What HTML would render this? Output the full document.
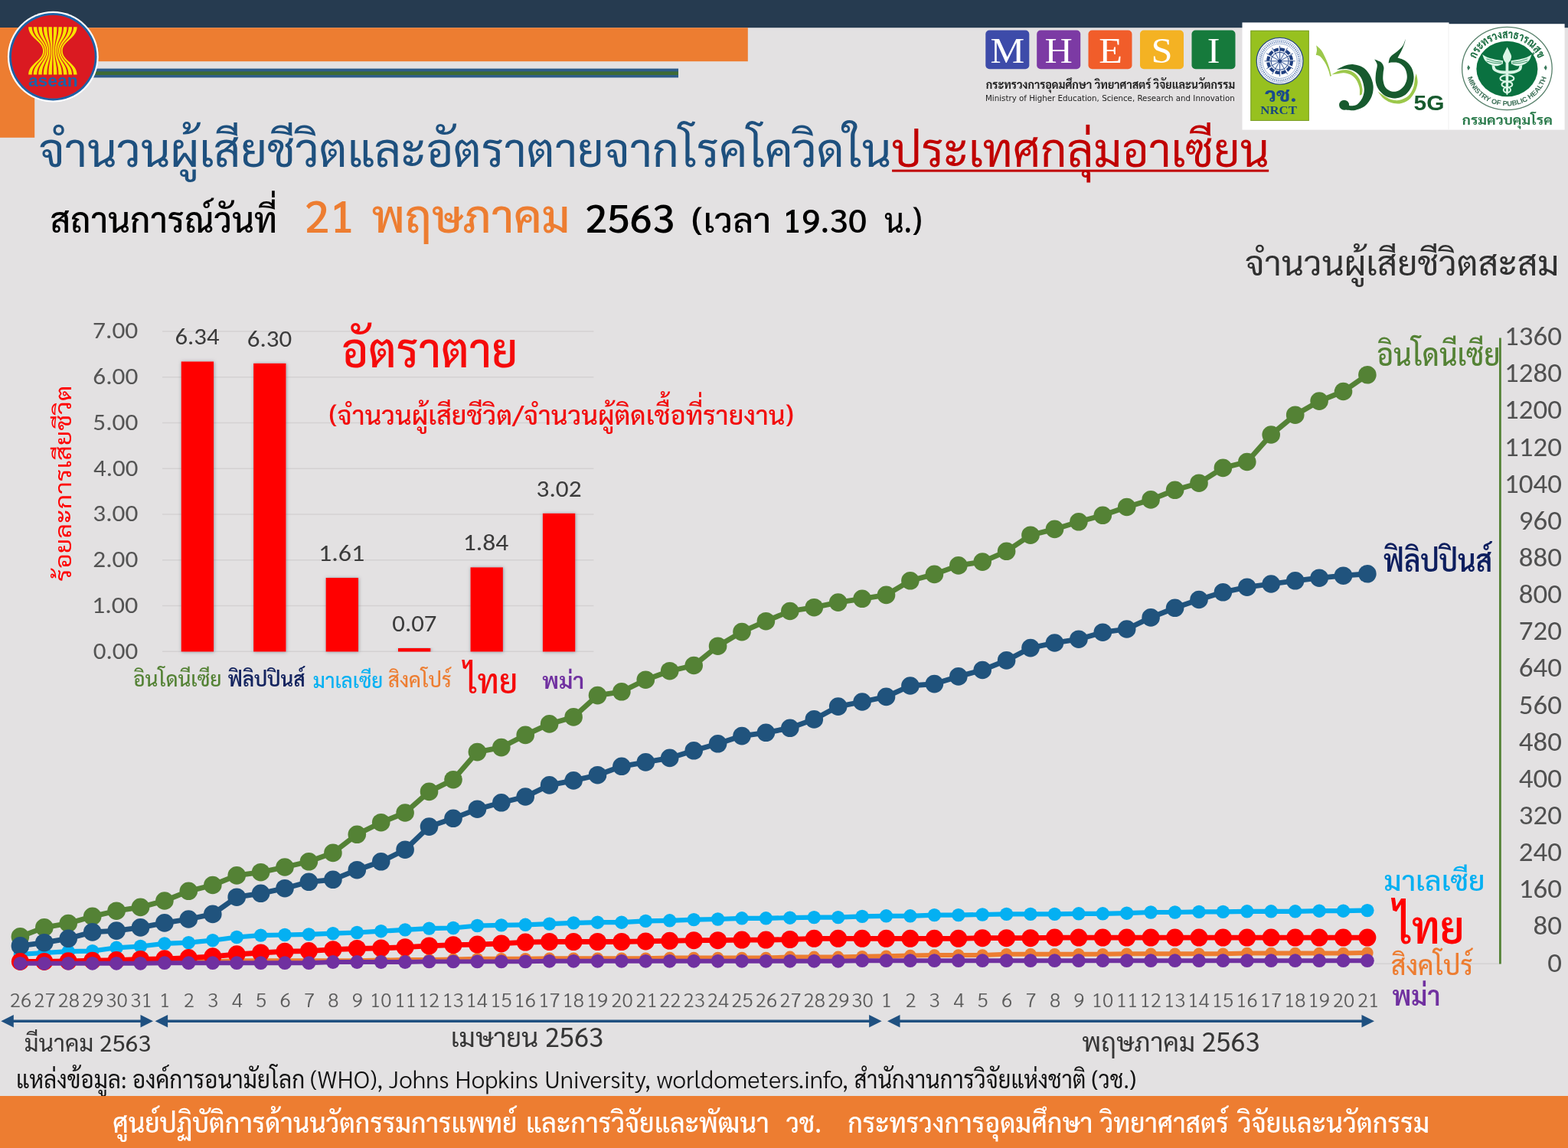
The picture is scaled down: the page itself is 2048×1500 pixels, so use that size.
<!DOCTYPE html>
<html lang="th">
<head>
<meta charset="utf-8">
<title>จำนวนผู้เสียชีวิตและอัตราตายจากโรคโควิดในประเทศกลุ่มอาเซียน</title>
<style>
html, body { margin: 0; padding: 0; background: #E3E1E2; }
body { width: 2048px; height: 1500px; overflow: hidden; font-family: Sarabun, 'TH Sarabun New', 'Noto Sans Thai', 'Liberation Sans', sans-serif; }
#page { position: absolute; left: 0; top: 0; width: 2048px; height: 1500px; background: #E3E1E2; overflow: hidden; }
svg { display: block; }
text { white-space: pre; }
</style>
</head>
<body>
<div id="page">
<svg width="2048" height="1500" viewBox="0 0 2048 1500">
<defs>
<filter id="sh" x="-30%" y="-5%" width="170%" height="112%">
<feDropShadow dx="0.6" dy="0.4" stdDeviation="2.2" flood-color="#4d6473" flood-opacity="0.6"/>
</filter>
</defs>
<g id="header">
<rect x="0" y="0" width="2048" height="36.2" fill="#263B50"/>
<rect x="0" y="36.2" width="976.8" height="44" fill="#ED7D31"/>
<rect x="0" y="36.2" width="45.2" height="143.6" fill="#ED7D31"/>
<rect x="120" y="89.6" width="766" height="11.8" fill="#2E5C8A"/>
<rect x="120" y="93.4" width="766" height="4.6" fill="#3E6B35"/>
</g>
<g id="asean-logo">
<circle cx="69.3" cy="74.2" r="59.4" fill="#fff"/>
<circle cx="69.3" cy="74.2" r="57.2" fill="#1E62A6"/>
<circle cx="69.3" cy="74.2" r="54.4" fill="#DA1A21"/>
<path d="M37.18 35.2 C37.18 50.2 56.16 53.4 56.16 66.4 C56.16 79.4 37.18 82.6 37.18 97.6 L41.68 97.6 C41.68 82.6 58.06 79.4 58.06 66.4 C58.06 53.4 41.68 50.2 41.68 35.2 Z M43.73 35.2 C43.73 50.2 58.78 53.4 58.78 66.4 C58.78 79.4 43.73 82.6 43.73 97.6 L48.23 97.6 C48.23 82.6 60.68 79.4 60.68 66.4 C60.68 53.4 48.23 50.2 48.23 35.2 Z M50.28 35.2 C50.28 50.2 61.40 53.4 61.40 66.4 C61.40 79.4 50.28 82.6 50.28 97.6 L54.78 97.6 C54.78 82.6 63.30 79.4 63.30 66.4 C63.30 53.4 54.78 50.2 54.78 35.2 Z M56.83 35.2 C56.83 50.2 64.02 53.4 64.02 66.4 C64.02 79.4 56.83 82.6 56.83 97.6 L61.33 97.6 C61.33 82.6 65.92 79.4 65.92 66.4 C65.92 53.4 61.33 50.2 61.33 35.2 Z M63.38 35.2 C63.38 50.2 66.64 53.4 66.64 66.4 C66.64 79.4 63.38 82.6 63.38 97.6 L67.88 97.6 C67.88 82.6 68.54 79.4 68.54 66.4 C68.54 53.4 67.88 50.2 67.88 35.2 Z M69.93 35.2 C69.93 50.2 69.26 53.4 69.26 66.4 C69.26 79.4 69.93 82.6 69.93 97.6 L74.43 97.6 C74.43 82.6 71.16 79.4 71.16 66.4 C71.16 53.4 74.43 50.2 74.43 35.2 Z M76.48 35.2 C76.48 50.2 71.88 53.4 71.88 66.4 C71.88 79.4 76.48 82.6 76.48 97.6 L80.98 97.6 C80.98 82.6 73.78 79.4 73.78 66.4 C73.78 53.4 80.98 50.2 80.98 35.2 Z M83.03 35.2 C83.03 50.2 74.50 53.4 74.50 66.4 C74.50 79.4 83.03 82.6 83.03 97.6 L87.53 97.6 C87.53 82.6 76.40 79.4 76.40 66.4 C76.40 53.4 87.53 50.2 87.53 35.2 Z M89.58 35.2 C89.58 50.2 77.12 53.4 77.12 66.4 C77.12 79.4 89.58 82.6 89.58 97.6 L94.08 97.6 C94.08 82.6 79.02 79.4 79.02 66.4 C79.02 53.4 94.08 50.2 94.08 35.2 Z M96.12 35.2 C96.12 50.2 79.74 53.4 79.74 66.4 C79.74 79.4 96.12 82.6 96.12 97.6 L100.62 97.6 C100.62 82.6 81.64 79.4 81.64 66.4 C81.64 53.4 100.62 50.2 100.62 35.2 Z" fill="#F9E300"/>
<text x="36.9" y="113.3" font-family="'Liberation Sans', 'DejaVu Sans', sans-serif" font-size="22.5" font-weight="700" fill="#1E62A6" textLength="64.8" lengthAdjust="spacingAndGlyphs">asean</text>
</g>
<g id="mhesi-logo">
<rect x="1287.3" y="39.5" width="57" height="50.8" rx="5" fill="#3D4BA9"/>
<text x="1293.5" y="82.4" font-family="'Liberation Serif', 'DejaVu Serif', serif" font-size="47" fill="#fff" textLength="44.7" lengthAdjust="spacingAndGlyphs">M</text>
<rect x="1354.2" y="39.5" width="57" height="50.8" rx="5" fill="#7C3AA4"/>
<text x="1364.5" y="82.4" font-family="'Liberation Serif', 'DejaVu Serif', serif" font-size="47" fill="#fff" textLength="36.3" lengthAdjust="spacingAndGlyphs">H</text>
<rect x="1421.5" y="39.5" width="57" height="50.8" rx="5" fill="#F15D2A"/>
<text x="1435.2" y="82.4" font-family="'Liberation Serif', 'DejaVu Serif', serif" font-size="47" fill="#fff" textLength="30.7" lengthAdjust="spacingAndGlyphs">E</text>
<rect x="1489.0" y="39.5" width="57" height="50.8" rx="5" fill="#F4B223"/>
<text x="1503.5" y="82.4" font-family="'Liberation Serif', 'DejaVu Serif', serif" font-size="47" fill="#fff" textLength="28.0" lengthAdjust="spacingAndGlyphs">S</text>
<rect x="1556.5" y="39.5" width="57" height="50.8" rx="5" fill="#167A3C"/>
<text x="1576.7" y="82.4" font-family="'Liberation Serif', 'DejaVu Serif', serif" font-size="47" fill="#fff" textLength="16.7" lengthAdjust="spacingAndGlyphs">I</text>
<text x="1287.8" y="115.8" font-family="Sarabun, 'TH Sarabun New', 'Noto Sans Thai', 'Liberation Sans', sans-serif" font-size="14.8" font-weight="700" fill="#1d1d1d" textLength="325.4" lengthAdjust="spacingAndGlyphs">กระทรวงการอุดมศึกษา วิทยาศาสตร์ วิจัยและนวัตกรรม</text>
<text x="1287.0" y="131.5" font-family="'DejaVu Sans', 'Liberation Sans', sans-serif" font-size="10.2" fill="#222" textLength="325.7" lengthAdjust="spacingAndGlyphs">Ministry of Higher Education, Science, Research and Innovation</text>
</g>
<g id="nrct-logos">
<rect x="1622.5" y="29.4" width="270" height="140.2" fill="#fff"/>
<rect x="1892" y="31.2" width="151.6" height="138.4" fill="#fff"/>
<rect x="1891.6" y="31.2" width="0.8" height="138.4" fill="#ECECEC"/>
<rect x="1633.4" y="39.8" width="76.4" height="118.2" fill="#97C11F"/>
<rect x="1633.9" y="40.3" width="75.4" height="117.2" fill="none" stroke="#7d9f2a" stroke-width="1"/>
<circle cx="1671.6" cy="79.8" r="30.4" fill="#fff" stroke="#2f4f86" stroke-width="1.3"/>
<circle cx="1671.6" cy="79.8" r="27.9" fill="none" stroke="#6f8dbd" stroke-width="0.7"/>
<circle cx="1671.6" cy="79.8" r="22.6" fill="none" stroke="#6f8dbd" stroke-width="0.7"/>
<circle cx="1671.6" cy="79.8" r="25.3" fill="none" stroke="#5d7db4" stroke-width="2.6" stroke-dasharray="1.1 1.3"/>
<circle cx="1671.6" cy="79.8" r="15.4" fill="none" stroke="#1F3F80" stroke-width="4.2" stroke-dasharray="5.9 2.164"/>
<circle cx="1671.6" cy="79.8" r="11.6" fill="#EEF3FB" stroke="#1F3F80" stroke-width="1"/>
<line x1="1674.1" y1="79.8" x2="1691.6" y2="79.8" stroke="#2b4c8c" stroke-width="0.9"/>
<line x1="1673.8" y1="81.0" x2="1688.9" y2="89.8" stroke="#2b4c8c" stroke-width="0.9"/>
<line x1="1672.8" y1="82.0" x2="1681.6" y2="97.1" stroke="#2b4c8c" stroke-width="0.9"/>
<line x1="1671.6" y1="82.3" x2="1671.6" y2="99.8" stroke="#2b4c8c" stroke-width="0.9"/>
<line x1="1670.3" y1="82.0" x2="1661.6" y2="97.1" stroke="#2b4c8c" stroke-width="0.9"/>
<line x1="1669.4" y1="81.0" x2="1654.3" y2="89.8" stroke="#2b4c8c" stroke-width="0.9"/>
<line x1="1669.1" y1="79.8" x2="1651.6" y2="79.8" stroke="#2b4c8c" stroke-width="0.9"/>
<line x1="1669.4" y1="78.5" x2="1654.3" y2="69.8" stroke="#2b4c8c" stroke-width="0.9"/>
<line x1="1670.3" y1="77.6" x2="1661.6" y2="62.5" stroke="#2b4c8c" stroke-width="0.9"/>
<line x1="1671.6" y1="77.3" x2="1671.6" y2="59.8" stroke="#2b4c8c" stroke-width="0.9"/>
<line x1="1672.8" y1="77.6" x2="1681.6" y2="62.5" stroke="#2b4c8c" stroke-width="0.9"/>
<line x1="1673.8" y1="78.5" x2="1688.9" y2="69.8" stroke="#2b4c8c" stroke-width="0.9"/>
<circle cx="1671.6" cy="79.8" r="2.6" fill="#1F3F80"/>
<text x="1652.1" y="133.0" font-family="Sarabun, 'TH Sarabun New', 'Noto Sans Thai', 'Liberation Sans', sans-serif" font-size="26.2" font-weight="800" fill="#1A4A8C" textLength="41.4" lengthAdjust="spacingAndGlyphs">วช.</text>
<text x="1646.3" y="149.4" font-family="'Liberation Serif', 'DejaVu Serif', serif" font-size="15.6" font-weight="700" fill="#17477F" textLength="47.6" lengthAdjust="spacingAndGlyphs">NRCT</text>
<path d="M1719.2 59.2 C1720.4 60.4 1724.3 63.3 1726.4 66.4 C1728.5 69.5 1730.4 74.0 1732.0 77.6 C1733.6 81.2 1734.9 84.5 1736.0 88.0 C1737.1 91.5 1738.3 97.0 1738.8 98.8 L1740.8 97.0 L1738.4 99.6 L1737.3 99.8 C1736.9 98.5 1736.3 95.0 1735.2 92.0 C1734.1 89.0 1732.3 84.7 1730.4 81.6 C1728.5 78.5 1725.9 75.2 1724.0 73.6 C1722.1 72.0 1719.7 72.3 1718.8 72.0 C1719.0 70.9 1719.9 67.7 1720.0 65.6 C1720.1 63.5 1719.3 60.3 1719.2 59.2 Z" fill="#9CC84B"/>
<path d="M1739.6 97.2 C1741.3 96.4 1746.2 93.1 1749.6 92.2 C1753.0 91.2 1756.8 90.9 1760.0 91.4 C1763.2 91.9 1766.1 93.1 1768.8 95.2 C1771.5 97.3 1774.2 100.5 1776.0 104.0 C1777.8 107.5 1778.9 112.8 1779.4 116.0 C1779.8 119.2 1778.9 122.0 1778.8 123.2 L1776.0 124.8 C1775.9 123.1 1776.4 117.9 1775.6 114.4 C1774.8 110.9 1773.1 106.8 1771.2 104.0 C1769.3 101.2 1766.7 99.1 1764.0 97.6 C1761.3 96.1 1758.1 95.4 1755.2 95.2 C1752.3 95.0 1749.0 96.1 1746.4 96.4 C1743.8 96.7 1740.7 97.1 1739.6 97.2 Z" fill="#9CC84B"/>
<path d="M1849.8 96.0 C1850.1 98.0 1851.9 104.0 1851.6 108.0 C1851.3 112.0 1849.9 116.3 1848.0 120.0 C1846.1 123.7 1843.3 127.8 1840.0 130.4 C1836.7 133.0 1832.0 134.8 1828.0 135.4 C1824.0 135.9 1819.6 135.0 1816.0 133.8 C1812.4 132.5 1809.1 130.4 1806.4 128.0 C1803.7 125.6 1800.7 121.0 1799.6 119.6 C1800.9 120.5 1804.3 123.1 1807.2 124.8 C1810.1 126.5 1813.3 129.0 1816.8 130.0 C1820.3 131.0 1824.3 131.5 1828.0 130.8 C1831.7 130.1 1836.2 128.3 1839.2 125.6 C1842.2 122.9 1844.5 118.3 1846.0 114.4 C1847.5 110.5 1847.4 105.5 1848.0 102.4 C1848.6 99.3 1849.5 97.1 1849.8 96.0 Z" fill="#9CC84B"/>
<path d="M1745.6 91.2 C1747.5 90.3 1753.1 86.9 1756.8 85.8 C1760.5 84.6 1764.1 83.8 1768.0 84.2 C1771.9 84.5 1776.5 85.8 1780.0 88.0 C1783.5 90.2 1786.5 93.6 1788.8 97.6 C1791.1 101.6 1793.2 107.2 1793.6 112.0 C1794.0 116.8 1793.2 122.0 1791.4 126.4 C1789.6 130.8 1786.4 135.5 1782.8 138.4 C1779.2 141.3 1773.8 143.1 1770.0 144.0 C1766.2 144.9 1762.5 143.8 1760.0 143.7 C1757.5 143.5 1756.0 143.3 1755.2 143.2 L1760.0 138.0 C1761.3 138.0 1765.7 138.5 1768.0 138.0 C1770.3 137.5 1772.0 137.1 1774.0 135.2 C1776.0 133.3 1778.7 129.6 1780.0 126.4 C1781.3 123.2 1782.0 119.9 1781.8 116.0 C1781.5 112.1 1780.3 106.8 1778.6 103.2 C1776.8 99.6 1774.3 96.7 1771.2 94.6 C1768.1 92.4 1764.3 90.8 1760.0 90.2 C1755.7 89.7 1748.0 91.0 1745.6 91.2 Z" fill="#175A2E"/>
<circle cx="1755.6" cy="137.2" r="6.5" fill="#175A2E"/>
<path d="M1795.2 77.6 C1795.8 78.8 1798.5 81.7 1798.8 84.8 C1799.1 87.9 1797.3 92.1 1797.0 96.0 C1796.7 99.9 1796.2 104.3 1797.0 108.0 C1797.8 111.7 1799.3 115.3 1801.8 118.4 C1804.3 121.5 1808.3 124.9 1812.0 126.6 C1815.7 128.2 1820.0 128.7 1824.0 128.2 C1828.0 127.6 1832.6 126.1 1836.0 123.4 C1839.4 120.7 1842.4 115.9 1844.2 112.0 C1845.9 108.1 1846.7 104.0 1846.6 100.0 C1846.4 96.0 1845.3 91.5 1843.4 88.0 C1841.5 84.5 1838.2 81.3 1835.2 79.2 C1832.2 77.1 1827.2 76.0 1825.6 75.4 C1826.4 73.9 1828.9 69.5 1830.4 66.4 C1831.9 63.3 1833.5 59.5 1834.4 56.8 C1835.3 54.1 1835.7 51.5 1836.0 50.4 C1835.3 52.0 1833.9 57.2 1832.0 60.0 C1830.1 62.8 1827.5 64.8 1824.8 67.2 C1822.1 69.6 1817.9 71.9 1816.0 74.4 C1814.1 76.9 1814.0 81.1 1813.6 82.4 C1814.5 82.3 1816.8 81.5 1819.2 81.6 C1821.6 81.7 1825.3 81.4 1828.0 82.8 C1830.7 84.2 1833.6 86.8 1835.2 89.8 C1836.8 92.8 1837.9 97.2 1837.8 100.8 C1837.7 104.4 1836.4 108.3 1834.6 111.2 C1832.7 114.1 1829.4 117.0 1826.6 118.4 C1823.7 119.8 1820.4 120.0 1817.6 119.4 C1814.8 118.7 1811.6 116.7 1809.8 114.4 C1807.9 112.1 1807.1 108.7 1806.6 105.6 C1806.0 102.5 1806.4 98.9 1806.6 96.0 C1806.7 93.1 1807.8 90.4 1807.4 88.0 C1806.9 85.6 1806.0 83.3 1804.0 81.6 C1802.0 79.9 1796.7 78.3 1795.2 77.6 Z" fill="#175A2E"/>
<text x="1846.5" y="144.1" font-family="'Liberation Sans', 'DejaVu Sans', sans-serif" font-size="27.6" font-weight="700" fill="#175A2E" textLength="39.9" lengthAdjust="spacingAndGlyphs">5G</text>
</g>
<g id="moph-logo">
<ellipse cx="1968.4" cy="89.5" rx="58.8" ry="54.2" fill="#fff" stroke="#56806A" stroke-width="1.3"/>
<ellipse cx="1968.4" cy="90.0" rx="40" ry="36.2" fill="#0A7140"/>
<path d="M1968.6 61.6 C1968.1 62.6 1966.5 65.6 1965.6 67.6 C1964.7 69.6 1963.3 71.8 1963.0 73.6 C1962.8 75.4 1963.6 77.0 1964.2 78.4 C1964.7 79.8 1966.2 81.4 1966.6 82.0 C1966.6 88.0 1966.6 110.9 1966.9 118.0 C1967.2 125.1 1968.1 123.3 1968.4 124.4 C1968.7 123.3 1969.7 125.1 1970.1 118.0 C1970.4 110.9 1970.3 88.0 1970.4 82.0 C1970.8 81.4 1972.3 79.8 1973.0 78.4 C1973.6 77.0 1974.3 75.4 1974.1 73.6 C1973.9 71.8 1972.6 69.6 1971.7 67.6 C1970.8 65.6 1969.1 62.6 1968.6 61.6 Z" fill="#DAF6E6"/>
<path d="M1963.2 79.2 C1961.3 78.9 1955.5 78.1 1952.0 77.4 C1948.5 76.6 1945.0 75.9 1942.4 74.8 C1939.8 73.7 1937.2 71.6 1936.2 71.0 C1936.7 72.2 1937.5 76.2 1939.2 78.4 C1940.9 80.6 1943.7 82.9 1946.4 84.2 C1949.1 85.5 1952.5 86.3 1955.2 86.2 C1957.9 86.0 1961.5 83.9 1962.8 83.4 L1963.2 79.2 Z" fill="#DAF6E6"/>
<path d="M1973.6 79.2 C1975.5 78.9 1981.3 78.1 1984.8 77.4 C1988.3 76.6 1991.8 75.9 1994.4 74.8 C1997.0 73.7 1999.6 71.6 2000.6 71.0 C2000.1 72.2 1999.3 76.2 1997.6 78.4 C1995.9 80.6 1993.1 82.9 1990.4 84.2 C1987.7 85.5 1984.3 86.3 1981.6 86.2 C1978.9 86.0 1975.3 83.9 1974.0 83.4 L1973.6 79.2 Z" fill="#DAF6E6"/>
<path d="M1941.6 76.8 Q1952.0 81.2 1961.6 81.2" fill="none" stroke="#0A7140" stroke-width="0.7"/>
<path d="M1995.2 76.8 Q1984.8 81.2 1975.2 81.2" fill="none" stroke="#0A7140" stroke-width="0.7"/>
<path d="M1941.6 80.0 Q1952.0 83.6 1961.6 82.8" fill="none" stroke="#0A7140" stroke-width="0.7"/>
<path d="M1995.2 80.0 Q1984.8 83.6 1975.2 82.8" fill="none" stroke="#0A7140" stroke-width="0.7"/>
<path d="M1948.5 85.0 C1948.8 86.2 1948.7 90.0 1950.4 91.8 C1952.1 93.5 1955.4 95.0 1958.4 95.8 C1961.4 96.6 1965.1 96.6 1968.4 96.6 C1971.7 96.6 1975.4 96.6 1978.4 95.8 C1981.4 95.0 1984.7 93.5 1986.4 91.8 C1988.1 90.0 1988.0 86.2 1988.3 85.0 L1984.5 86.0 C1984.2 86.7 1984.0 89.1 1982.6 90.2 C1981.1 91.2 1978.4 91.8 1976.0 92.2 C1973.6 92.6 1970.9 92.6 1968.4 92.6 C1965.9 92.6 1963.2 92.6 1960.8 92.2 C1958.4 91.8 1955.7 91.2 1954.2 90.2 C1952.8 89.1 1952.6 86.7 1952.3 86.0 L1948.5 85.0 Z" fill="#DAF6E6"/>
<ellipse cx="1968.4" cy="102.4" rx="9.0" ry="4.2" fill="none" stroke="#DAF6E6" stroke-width="2.1"/>
<ellipse cx="1968.4" cy="110.4" rx="6.9" ry="3.8" fill="none" stroke="#DAF6E6" stroke-width="2.1"/>
<ellipse cx="1968.4" cy="117.4" rx="4.6" ry="3.4" fill="none" stroke="#DAF6E6" stroke-width="2.1"/>
<path id="mophTop" d="M1925.5 89.5 A42.9 39.6 0 0 1 2011.3000000000002 89.5" fill="none"/>
<path id="mophBot" d="M1915.5 89.5 A52.9 48.8 0 0 0 2021.3000000000002 89.5" fill="none"/>
<text font-family="Sarabun, 'TH Sarabun New', 'Noto Sans Thai', 'Liberation Sans', sans-serif" font-size="15" font-weight="800" fill="#1B6E42" text-anchor="middle" textLength="104" lengthAdjust="spacingAndGlyphs"><textPath href="#mophTop" startOffset="50%">กระทรวงสาธารณสุข</textPath></text>
<text font-family="'Liberation Sans', 'DejaVu Sans', sans-serif" font-size="9" font-weight="700" fill="#3A6E55" text-anchor="middle" textLength="136" lengthAdjust="spacingAndGlyphs"><textPath href="#mophBot" startOffset="50%">MINISTRY OF PUBLIC HEALTH</textPath></text>
<path d="M1917.8000000000002 84.9 l2.4 3.6 l-2.4 3.6 l-1.6 -3.6 Z" fill="#3A7A5A"/>
<path d="M2019.0 84.9 l-2.4 3.6 l2.4 3.6 l1.6 -3.6 Z" fill="#3A7A5A"/>
<text x="1909.8" y="163.0" font-family="Sarabun, 'TH Sarabun New', 'Noto Sans Thai', 'Liberation Sans', sans-serif" font-size="16.8" font-weight="700" fill="#2A7A4B" textLength="118.0" lengthAdjust="spacingAndGlyphs">กรมควบคุมโรค</text>
</g>
<g id="titles">
<text x="50.8" y="218.0" font-family="Sarabun, 'TH Sarabun New', 'Noto Sans Thai', 'Liberation Sans', sans-serif" font-size="60.4" fill="#1E507E" textLength="1113.5" lengthAdjust="spacingAndGlyphs">จำนวนผู้เสียชีวิตและอัตราตายจากโรคโควิดใน</text>
<text x="1164.5" y="218.0" font-family="Sarabun, 'TH Sarabun New', 'Noto Sans Thai', 'Liberation Sans', sans-serif" font-size="60.4" fill="#C00000" textLength="493.2" lengthAdjust="spacingAndGlyphs">ประเทศกลุ่มอาเซียน</text>
<rect x="1165.1" y="221.6" width="492.1" height="3.0" fill="#C00000"/>
<text x="65.5" y="303.5" font-family="Sarabun, 'TH Sarabun New', 'Noto Sans Thai', 'Liberation Sans', sans-serif" font-size="45.2" font-weight="500" fill="#000" textLength="296.7" lengthAdjust="spacingAndGlyphs">สถานการณ์วันที่</text>
<text x="397.5" y="303.5" font-family="Sarabun, 'TH Sarabun New', 'Noto Sans Thai', 'Liberation Sans', sans-serif" font-size="57.7" font-weight="500" fill="#ED7D31" textLength="65.8" lengthAdjust="spacingAndGlyphs">21</text>
<text x="485.4" y="303.5" font-family="Sarabun, 'TH Sarabun New', 'Noto Sans Thai', 'Liberation Sans', sans-serif" font-size="59.1" font-weight="500" fill="#ED7D31" textLength="259.1" lengthAdjust="spacingAndGlyphs">พฤษภาคม</text>
<text x="764.0" y="303.6" font-family="Sarabun, 'TH Sarabun New', 'Noto Sans Thai', 'Liberation Sans', sans-serif" font-size="51.6" font-weight="500" fill="#000" textLength="117.2" lengthAdjust="spacingAndGlyphs">2563</text>
<text x="903.1" y="303.6" font-family="Sarabun, 'TH Sarabun New', 'Noto Sans Thai', 'Liberation Sans', sans-serif" font-size="44.4" font-weight="500" fill="#000" textLength="104.1" lengthAdjust="spacingAndGlyphs">(เวลา</text>
<text x="1022.3" y="303.6" font-family="Sarabun, 'TH Sarabun New', 'Noto Sans Thai', 'Liberation Sans', sans-serif" font-size="43.5" font-weight="500" fill="#000" textLength="110.1" lengthAdjust="spacingAndGlyphs">19.30</text>
<text x="1154.9" y="303.6" font-family="Sarabun, 'TH Sarabun New', 'Noto Sans Thai', 'Liberation Sans', sans-serif" font-size="44.4" font-weight="500" fill="#000" textLength="49.5" lengthAdjust="spacingAndGlyphs">น.)</text>
<text x="1626.0" y="359.5" font-family="Sarabun, 'TH Sarabun New', 'Noto Sans Thai', 'Liberation Sans', sans-serif" font-size="44.8" fill="#303030" textLength="410.5" lengthAdjust="spacingAndGlyphs">จำนวนผู้เสียชีวิตสะสม</text>
</g>
<g id="bar-chart">
<line x1="212" y1="851.2" x2="775.4" y2="851.2" stroke="#D4D1D2" stroke-width="1.5"/>
<text x="121.8" y="860.9" font-family="Carlito, Calibri, 'Liberation Sans', sans-serif" font-size="31.4" fill="#545454" textLength="58.5" lengthAdjust="spacingAndGlyphs">0.00</text>
<line x1="212" y1="791.5" x2="775.4" y2="791.5" stroke="#D4D1D2" stroke-width="1.5"/>
<text x="119.9" y="801.1" font-family="Carlito, Calibri, 'Liberation Sans', sans-serif" font-size="31.4" fill="#545454" textLength="60.4" lengthAdjust="spacingAndGlyphs">1.00</text>
<line x1="212" y1="731.7" x2="775.4" y2="731.7" stroke="#D4D1D2" stroke-width="1.5"/>
<text x="121.3" y="741.2" font-family="Carlito, Calibri, 'Liberation Sans', sans-serif" font-size="31.4" fill="#545454" textLength="59.0" lengthAdjust="spacingAndGlyphs">2.00</text>
<line x1="212" y1="672.0" x2="775.4" y2="672.0" stroke="#D4D1D2" stroke-width="1.5"/>
<text x="121.3" y="681.4" font-family="Carlito, Calibri, 'Liberation Sans', sans-serif" font-size="31.4" fill="#545454" textLength="59.0" lengthAdjust="spacingAndGlyphs">3.00</text>
<line x1="212" y1="612.2" x2="775.4" y2="612.2" stroke="#D4D1D2" stroke-width="1.5"/>
<text x="122.1" y="621.6" font-family="Carlito, Calibri, 'Liberation Sans', sans-serif" font-size="31.4" fill="#545454" textLength="58.2" lengthAdjust="spacingAndGlyphs">4.00</text>
<line x1="212" y1="552.5" x2="775.4" y2="552.5" stroke="#D4D1D2" stroke-width="1.5"/>
<text x="121.3" y="561.8" font-family="Carlito, Calibri, 'Liberation Sans', sans-serif" font-size="31.4" fill="#545454" textLength="59.0" lengthAdjust="spacingAndGlyphs">5.00</text>
<line x1="212" y1="492.7" x2="775.4" y2="492.7" stroke="#D4D1D2" stroke-width="1.5"/>
<text x="121.3" y="501.9" font-family="Carlito, Calibri, 'Liberation Sans', sans-serif" font-size="31.4" fill="#545454" textLength="59.0" lengthAdjust="spacingAndGlyphs">6.00</text>
<line x1="212" y1="433.0" x2="775.4" y2="433.0" stroke="#D4D1D2" stroke-width="1.5"/>
<text x="121.0" y="442.1" font-family="Carlito, Calibri, 'Liberation Sans', sans-serif" font-size="31.4" fill="#545454" textLength="59.3" lengthAdjust="spacingAndGlyphs">7.00</text>
<rect x="236.7" y="472.4" width="42.4" height="379.1" fill="#FF0000" filter="url(#sh)"/>
<text x="228.4" y="450.3" font-family="Carlito, Calibri, 'Liberation Sans', sans-serif" font-size="31.4" fill="#3b3b3b" textLength="58.1" lengthAdjust="spacingAndGlyphs">6.34</text>
<rect x="331.1" y="474.8" width="42.4" height="376.7" fill="#FF0000" filter="url(#sh)"/>
<text x="322.8" y="452.7" font-family="Carlito, Calibri, 'Liberation Sans', sans-serif" font-size="31.4" fill="#3b3b3b" textLength="58.4" lengthAdjust="spacingAndGlyphs">6.30</text>
<rect x="425.6" y="755.0" width="42.4" height="96.5" fill="#FF0000" filter="url(#sh)"/>
<text x="415.9" y="732.9" font-family="Carlito, Calibri, 'Liberation Sans', sans-serif" font-size="31.4" fill="#3b3b3b" textLength="60.4" lengthAdjust="spacingAndGlyphs">1.61</text>
<rect x="520.0" y="847.0" width="42.4" height="4.5" fill="#FF0000" filter="url(#sh)"/>
<text x="512.3" y="824.9" font-family="Carlito, Calibri, 'Liberation Sans', sans-serif" font-size="31.4" fill="#3b3b3b" textLength="58.1" lengthAdjust="spacingAndGlyphs">0.07</text>
<rect x="614.5" y="741.3" width="42.4" height="110.2" fill="#FF0000" filter="url(#sh)"/>
<text x="604.8" y="719.2" font-family="Carlito, Calibri, 'Liberation Sans', sans-serif" font-size="31.4" fill="#3b3b3b" textLength="59.5" lengthAdjust="spacingAndGlyphs">1.84</text>
<rect x="708.9" y="670.8" width="42.4" height="180.7" fill="#FF0000" filter="url(#sh)"/>
<text x="700.6" y="648.7" font-family="Carlito, Calibri, 'Liberation Sans', sans-serif" font-size="31.4" fill="#3b3b3b" textLength="59.0" lengthAdjust="spacingAndGlyphs">3.02</text>
<text x="173.9" y="896.6" font-family="Sarabun, 'TH Sarabun New', 'Noto Sans Thai', 'Liberation Sans', sans-serif" font-size="27.8" font-weight="500" fill="#548235" textLength="115.7" lengthAdjust="spacingAndGlyphs">อินโดนีเซีย</text>
<text x="297.7" y="897.0" font-family="Sarabun, 'TH Sarabun New', 'Noto Sans Thai', 'Liberation Sans', sans-serif" font-size="27.8" font-weight="600" fill="#14245F" textLength="100.9" lengthAdjust="spacingAndGlyphs">ฟิลิปปินส์</text>
<text x="408.7" y="899.4" font-family="Sarabun, 'TH Sarabun New', 'Noto Sans Thai', 'Liberation Sans', sans-serif" font-size="26.4" font-weight="500" fill="#04B0F2" textLength="91.6" lengthAdjust="spacingAndGlyphs">มาเลเซีย</text>
<text x="506.7" y="898.4" font-family="Sarabun, 'TH Sarabun New', 'Noto Sans Thai', 'Liberation Sans', sans-serif" font-size="26.8" font-weight="500" fill="#ED7D31" textLength="82.9" lengthAdjust="spacingAndGlyphs">สิงคโปร์</text>
<text x="606.0" y="905.5" font-family="Sarabun, 'TH Sarabun New', 'Noto Sans Thai', 'Liberation Sans', sans-serif" font-size="43.8" font-weight="500" fill="#F50A0A" textLength="70.3" lengthAdjust="spacingAndGlyphs">ไทย</text>
<text x="708.3" y="899.8" font-family="Sarabun, 'TH Sarabun New', 'Noto Sans Thai', 'Liberation Sans', sans-serif" font-size="28" font-weight="600" fill="#7030A0" textLength="54.9" lengthAdjust="spacingAndGlyphs">พม่า</text>
<text x="446.0" y="479.5" font-family="Sarabun, 'TH Sarabun New', 'Noto Sans Thai', 'Liberation Sans', sans-serif" font-size="63.4" font-weight="500" fill="#F50A0A" textLength="230.4" lengthAdjust="spacingAndGlyphs">อัตราตาย</text>
<text x="429.4" y="555.0" font-family="Sarabun, 'TH Sarabun New', 'Noto Sans Thai', 'Liberation Sans', sans-serif" font-size="34.2" font-weight="500" fill="#F20D0D" textLength="607.4" lengthAdjust="spacingAndGlyphs">(จำนวนผู้เสียชีวิต/จำนวนผู้ติดเชื้อที่รายงาน)</text>
<text x="-0.9" y="0" transform="translate(93.2 759.0) rotate(-90)" font-family="Sarabun, 'TH Sarabun New', 'Noto Sans Thai', 'Liberation Sans', sans-serif" font-size="28.6" fill="#FF0000" textLength="256.4" lengthAdjust="spacingAndGlyphs">ร้อยละการเสียชีวิต</text>
</g>
<g id="line-chart">
<line x1="1796" y1="1259.3" x2="1960" y2="1259.3" stroke="#D4D1D2" stroke-width="1.5"/>
<line x1="1959.4" y1="441.5" x2="1959.4" y2="1259.6" stroke="#548235" stroke-width="2.8"/>
<text x="2021.2" y="1269.6" font-family="Carlito, Calibri, 'Liberation Sans', sans-serif" font-size="34.4" fill="#505050" textLength="18.7" lengthAdjust="spacingAndGlyphs">0</text>
<text x="2002.5" y="1221.4" font-family="Carlito, Calibri, 'Liberation Sans', sans-serif" font-size="34.4" fill="#505050" textLength="37.5" lengthAdjust="spacingAndGlyphs">80</text>
<text x="1983.7" y="1173.3" font-family="Carlito, Calibri, 'Liberation Sans', sans-serif" font-size="34.4" fill="#505050" textLength="56.2" lengthAdjust="spacingAndGlyphs">160</text>
<text x="1983.7" y="1125.1" font-family="Carlito, Calibri, 'Liberation Sans', sans-serif" font-size="34.4" fill="#505050" textLength="56.2" lengthAdjust="spacingAndGlyphs">240</text>
<text x="1983.7" y="1077.0" font-family="Carlito, Calibri, 'Liberation Sans', sans-serif" font-size="34.4" fill="#505050" textLength="56.2" lengthAdjust="spacingAndGlyphs">320</text>
<text x="1983.7" y="1028.8" font-family="Carlito, Calibri, 'Liberation Sans', sans-serif" font-size="34.4" fill="#505050" textLength="56.2" lengthAdjust="spacingAndGlyphs">400</text>
<text x="1983.7" y="980.7" font-family="Carlito, Calibri, 'Liberation Sans', sans-serif" font-size="34.4" fill="#505050" textLength="56.2" lengthAdjust="spacingAndGlyphs">480</text>
<text x="1983.7" y="932.5" font-family="Carlito, Calibri, 'Liberation Sans', sans-serif" font-size="34.4" fill="#505050" textLength="56.2" lengthAdjust="spacingAndGlyphs">560</text>
<text x="1983.7" y="884.4" font-family="Carlito, Calibri, 'Liberation Sans', sans-serif" font-size="34.4" fill="#505050" textLength="56.2" lengthAdjust="spacingAndGlyphs">640</text>
<text x="1983.7" y="836.2" font-family="Carlito, Calibri, 'Liberation Sans', sans-serif" font-size="34.4" fill="#505050" textLength="56.2" lengthAdjust="spacingAndGlyphs">720</text>
<text x="1983.7" y="788.1" font-family="Carlito, Calibri, 'Liberation Sans', sans-serif" font-size="34.4" fill="#505050" textLength="56.2" lengthAdjust="spacingAndGlyphs">800</text>
<text x="1983.7" y="739.9" font-family="Carlito, Calibri, 'Liberation Sans', sans-serif" font-size="34.4" fill="#505050" textLength="56.2" lengthAdjust="spacingAndGlyphs">880</text>
<text x="1983.7" y="691.8" font-family="Carlito, Calibri, 'Liberation Sans', sans-serif" font-size="34.4" fill="#505050" textLength="56.2" lengthAdjust="spacingAndGlyphs">960</text>
<text x="1965.0" y="643.6" font-family="Carlito, Calibri, 'Liberation Sans', sans-serif" font-size="34.4" fill="#505050" textLength="75.0" lengthAdjust="spacingAndGlyphs">1040</text>
<text x="1965.0" y="595.5" font-family="Carlito, Calibri, 'Liberation Sans', sans-serif" font-size="34.4" fill="#505050" textLength="75.0" lengthAdjust="spacingAndGlyphs">1120</text>
<text x="1965.0" y="547.4" font-family="Carlito, Calibri, 'Liberation Sans', sans-serif" font-size="34.4" fill="#505050" textLength="75.0" lengthAdjust="spacingAndGlyphs">1200</text>
<text x="1965.0" y="499.2" font-family="Carlito, Calibri, 'Liberation Sans', sans-serif" font-size="34.4" fill="#505050" textLength="75.0" lengthAdjust="spacingAndGlyphs">1280</text>
<text x="1965.0" y="451.0" font-family="Carlito, Calibri, 'Liberation Sans', sans-serif" font-size="34.4" fill="#505050" textLength="75.0" lengthAdjust="spacingAndGlyphs">1360</text>
<g id="malaysia" fill="#04B0F2">
<polyline points="26.4,1246.8 57.8,1245.0 89.2,1243.2 120.7,1242.6 152.1,1238.3 183.5,1236.5 214.9,1232.9 246.3,1231.7 277.8,1228.7 309.2,1224.5 340.6,1222.1 372.0,1221.5 403.4,1220.9 434.9,1219.7 466.3,1218.5 497.7,1216.7 529.1,1214.9 560.5,1213.1 592.0,1212.5 623.4,1209.5 654.8,1208.9 686.2,1208.3 717.6,1207.1 749.1,1205.9 780.5,1205.2 811.9,1205.2 843.3,1203.4 874.7,1202.8 906.2,1201.6 937.6,1201.0 969.0,1199.8 1000.4,1199.8 1031.8,1199.2 1063.3,1198.6 1094.7,1198.6 1126.1,1197.4 1157.5,1196.8 1188.9,1196.8 1220.4,1195.6 1251.8,1195.6 1283.2,1195.0 1314.6,1194.4 1346.0,1194.4 1377.5,1194.4 1408.9,1193.8 1440.3,1193.8 1471.7,1193.2 1503.1,1192.0 1534.6,1192.0 1566.0,1191.4 1597.4,1191.4 1628.8,1190.8 1660.2,1190.8 1691.7,1190.8 1723.1,1190.2 1754.5,1190.2 1785.9,1189.6" fill="none" stroke="#04B0F2" stroke-width="6.2" stroke-linejoin="round" stroke-linecap="round"/>
<circle cx="26.4" cy="1246.8" r="8.7"/>
<circle cx="57.8" cy="1245.0" r="8.7"/>
<circle cx="89.2" cy="1243.2" r="8.7"/>
<circle cx="120.7" cy="1242.6" r="8.7"/>
<circle cx="152.1" cy="1238.3" r="8.7"/>
<circle cx="183.5" cy="1236.5" r="8.7"/>
<circle cx="214.9" cy="1232.9" r="8.7"/>
<circle cx="246.3" cy="1231.7" r="8.7"/>
<circle cx="277.8" cy="1228.7" r="8.7"/>
<circle cx="309.2" cy="1224.5" r="8.7"/>
<circle cx="340.6" cy="1222.1" r="8.7"/>
<circle cx="372.0" cy="1221.5" r="8.7"/>
<circle cx="403.4" cy="1220.9" r="8.7"/>
<circle cx="434.9" cy="1219.7" r="8.7"/>
<circle cx="466.3" cy="1218.5" r="8.7"/>
<circle cx="497.7" cy="1216.7" r="8.7"/>
<circle cx="529.1" cy="1214.9" r="8.7"/>
<circle cx="560.5" cy="1213.1" r="8.7"/>
<circle cx="592.0" cy="1212.5" r="8.7"/>
<circle cx="623.4" cy="1209.5" r="8.7"/>
<circle cx="654.8" cy="1208.9" r="8.7"/>
<circle cx="686.2" cy="1208.3" r="8.7"/>
<circle cx="717.6" cy="1207.1" r="8.7"/>
<circle cx="749.1" cy="1205.9" r="8.7"/>
<circle cx="780.5" cy="1205.2" r="8.7"/>
<circle cx="811.9" cy="1205.2" r="8.7"/>
<circle cx="843.3" cy="1203.4" r="8.7"/>
<circle cx="874.7" cy="1202.8" r="8.7"/>
<circle cx="906.2" cy="1201.6" r="8.7"/>
<circle cx="937.6" cy="1201.0" r="8.7"/>
<circle cx="969.0" cy="1199.8" r="8.7"/>
<circle cx="1000.4" cy="1199.8" r="8.7"/>
<circle cx="1031.8" cy="1199.2" r="8.7"/>
<circle cx="1063.3" cy="1198.6" r="8.7"/>
<circle cx="1094.7" cy="1198.6" r="8.7"/>
<circle cx="1126.1" cy="1197.4" r="8.7"/>
<circle cx="1157.5" cy="1196.8" r="8.7"/>
<circle cx="1188.9" cy="1196.8" r="8.7"/>
<circle cx="1220.4" cy="1195.6" r="8.7"/>
<circle cx="1251.8" cy="1195.6" r="8.7"/>
<circle cx="1283.2" cy="1195.0" r="8.7"/>
<circle cx="1314.6" cy="1194.4" r="8.7"/>
<circle cx="1346.0" cy="1194.4" r="8.7"/>
<circle cx="1377.5" cy="1194.4" r="8.7"/>
<circle cx="1408.9" cy="1193.8" r="8.7"/>
<circle cx="1440.3" cy="1193.8" r="8.7"/>
<circle cx="1471.7" cy="1193.2" r="8.7"/>
<circle cx="1503.1" cy="1192.0" r="8.7"/>
<circle cx="1534.6" cy="1192.0" r="8.7"/>
<circle cx="1566.0" cy="1191.4" r="8.7"/>
<circle cx="1597.4" cy="1191.4" r="8.7"/>
<circle cx="1628.8" cy="1190.8" r="8.7"/>
<circle cx="1660.2" cy="1190.8" r="8.7"/>
<circle cx="1691.7" cy="1190.8" r="8.7"/>
<circle cx="1723.1" cy="1190.2" r="8.7"/>
<circle cx="1754.5" cy="1190.2" r="8.7"/>
<circle cx="1785.9" cy="1189.6" r="8.7"/>
</g>
<g id="singapore" fill="#ED7D31">
<polyline points="26.4,1257.6 57.8,1257.6 89.2,1257.6 120.7,1257.6 152.1,1257.0 183.5,1257.0 214.9,1257.0 246.3,1257.0 277.8,1256.4 309.2,1255.2 340.6,1255.2 372.0,1255.2 403.4,1255.2 434.9,1255.2 466.3,1255.2 497.7,1254.6 529.1,1254.0 560.5,1254.0 592.0,1253.4 623.4,1252.8 654.8,1252.8 686.2,1252.8 717.6,1252.2 749.1,1252.2 780.5,1252.2 811.9,1252.2 843.3,1252.2 874.7,1251.6 906.2,1251.6 937.6,1251.6 969.0,1251.6 1000.4,1251.6 1031.8,1250.4 1063.3,1250.4 1094.7,1250.4 1126.1,1249.8 1157.5,1249.2 1188.9,1248.6 1220.4,1248.0 1251.8,1248.0 1283.2,1248.0 1314.6,1246.8 1346.0,1246.8 1377.5,1246.8 1408.9,1246.8 1440.3,1246.8 1471.7,1246.2 1503.1,1246.2 1534.6,1246.2 1566.0,1246.2 1597.4,1246.2 1628.8,1245.6 1660.2,1245.6 1691.7,1245.6 1723.1,1245.6 1754.5,1245.6 1785.9,1245.0" fill="none" stroke="#ED7D31" stroke-width="6.0" stroke-linejoin="round" stroke-linecap="round"/>
<circle cx="26.4" cy="1257.6" r="7.8"/>
<circle cx="57.8" cy="1257.6" r="7.8"/>
<circle cx="89.2" cy="1257.6" r="7.8"/>
<circle cx="120.7" cy="1257.6" r="7.8"/>
<circle cx="152.1" cy="1257.0" r="7.8"/>
<circle cx="183.5" cy="1257.0" r="7.8"/>
<circle cx="214.9" cy="1257.0" r="7.8"/>
<circle cx="246.3" cy="1257.0" r="7.8"/>
<circle cx="277.8" cy="1256.4" r="7.8"/>
<circle cx="309.2" cy="1255.2" r="7.8"/>
<circle cx="340.6" cy="1255.2" r="7.8"/>
<circle cx="372.0" cy="1255.2" r="7.8"/>
<circle cx="403.4" cy="1255.2" r="7.8"/>
<circle cx="434.9" cy="1255.2" r="7.8"/>
<circle cx="466.3" cy="1255.2" r="7.8"/>
<circle cx="497.7" cy="1254.6" r="7.8"/>
<circle cx="529.1" cy="1254.0" r="7.8"/>
<circle cx="560.5" cy="1254.0" r="7.8"/>
<circle cx="592.0" cy="1253.4" r="7.8"/>
<circle cx="623.4" cy="1252.8" r="7.8"/>
<circle cx="654.8" cy="1252.8" r="7.8"/>
<circle cx="686.2" cy="1252.8" r="7.8"/>
<circle cx="717.6" cy="1252.2" r="7.8"/>
<circle cx="749.1" cy="1252.2" r="7.8"/>
<circle cx="780.5" cy="1252.2" r="7.8"/>
<circle cx="811.9" cy="1252.2" r="7.8"/>
<circle cx="843.3" cy="1252.2" r="7.8"/>
<circle cx="874.7" cy="1251.6" r="7.8"/>
<circle cx="906.2" cy="1251.6" r="7.8"/>
<circle cx="937.6" cy="1251.6" r="7.8"/>
<circle cx="969.0" cy="1251.6" r="7.8"/>
<circle cx="1000.4" cy="1251.6" r="7.8"/>
<circle cx="1031.8" cy="1250.4" r="7.8"/>
<circle cx="1063.3" cy="1250.4" r="7.8"/>
<circle cx="1094.7" cy="1250.4" r="7.8"/>
<circle cx="1126.1" cy="1249.8" r="7.8"/>
<circle cx="1157.5" cy="1249.2" r="7.8"/>
<circle cx="1188.9" cy="1248.6" r="7.8"/>
<circle cx="1220.4" cy="1248.0" r="7.8"/>
<circle cx="1251.8" cy="1248.0" r="7.8"/>
<circle cx="1283.2" cy="1248.0" r="7.8"/>
<circle cx="1314.6" cy="1246.8" r="7.8"/>
<circle cx="1346.0" cy="1246.8" r="7.8"/>
<circle cx="1377.5" cy="1246.8" r="7.8"/>
<circle cx="1408.9" cy="1246.8" r="7.8"/>
<circle cx="1440.3" cy="1246.8" r="7.8"/>
<circle cx="1471.7" cy="1246.2" r="7.8"/>
<circle cx="1503.1" cy="1246.2" r="7.8"/>
<circle cx="1534.6" cy="1246.2" r="7.8"/>
<circle cx="1566.0" cy="1246.2" r="7.8"/>
<circle cx="1597.4" cy="1246.2" r="7.8"/>
<circle cx="1628.8" cy="1245.6" r="7.8"/>
<circle cx="1660.2" cy="1245.6" r="7.8"/>
<circle cx="1691.7" cy="1245.6" r="7.8"/>
<circle cx="1723.1" cy="1245.6" r="7.8"/>
<circle cx="1754.5" cy="1245.6" r="7.8"/>
<circle cx="1785.9" cy="1245.0" r="7.8"/>
</g>
<g id="indonesia" fill="#548235">
<polyline points="26.4,1223.9 57.8,1211.9 89.2,1206.5 120.7,1197.4 152.1,1190.2 183.5,1185.4 214.9,1177.0 246.3,1164.3 277.8,1156.5 309.2,1143.9 340.6,1139.7 372.0,1133.0 403.4,1125.8 434.9,1114.4 466.3,1090.3 497.7,1074.7 529.1,1062.0 560.5,1034.4 592.0,1018.7 623.4,982.6 654.8,976.6 686.2,960.4 717.6,945.9 749.1,936.9 780.5,908.6 811.9,903.8 843.3,888.2 874.7,876.7 906.2,869.5 937.6,844.2 969.0,825.6 1000.4,811.7 1031.8,798.5 1063.3,793.7 1094.7,787.1 1126.1,782.3 1157.5,777.4 1188.9,758.8 1220.4,750.4 1251.8,738.9 1283.2,734.1 1314.6,720.3 1346.0,699.2 1377.5,691.4 1408.9,681.8 1440.3,673.3 1471.7,662.5 1503.1,652.9 1534.6,640.3 1566.0,631.2 1597.4,611.4 1628.8,603.5 1660.2,568.0 1691.7,542.2 1723.1,524.1 1754.5,511.5 1785.9,489.8" fill="none" stroke="#548235" stroke-width="6.8" stroke-linejoin="round" stroke-linecap="round"/>
<circle cx="26.4" cy="1223.9" r="11.8"/>
<circle cx="57.8" cy="1211.9" r="11.8"/>
<circle cx="89.2" cy="1206.5" r="11.8"/>
<circle cx="120.7" cy="1197.4" r="11.8"/>
<circle cx="152.1" cy="1190.2" r="11.8"/>
<circle cx="183.5" cy="1185.4" r="11.8"/>
<circle cx="214.9" cy="1177.0" r="11.8"/>
<circle cx="246.3" cy="1164.3" r="11.8"/>
<circle cx="277.8" cy="1156.5" r="11.8"/>
<circle cx="309.2" cy="1143.9" r="11.8"/>
<circle cx="340.6" cy="1139.7" r="11.8"/>
<circle cx="372.0" cy="1133.0" r="11.8"/>
<circle cx="403.4" cy="1125.8" r="11.8"/>
<circle cx="434.9" cy="1114.4" r="11.8"/>
<circle cx="466.3" cy="1090.3" r="11.8"/>
<circle cx="497.7" cy="1074.7" r="11.8"/>
<circle cx="529.1" cy="1062.0" r="11.8"/>
<circle cx="560.5" cy="1034.4" r="11.8"/>
<circle cx="592.0" cy="1018.7" r="11.8"/>
<circle cx="623.4" cy="982.6" r="11.8"/>
<circle cx="654.8" cy="976.6" r="11.8"/>
<circle cx="686.2" cy="960.4" r="11.8"/>
<circle cx="717.6" cy="945.9" r="11.8"/>
<circle cx="749.1" cy="936.9" r="11.8"/>
<circle cx="780.5" cy="908.6" r="11.8"/>
<circle cx="811.9" cy="903.8" r="11.8"/>
<circle cx="843.3" cy="888.2" r="11.8"/>
<circle cx="874.7" cy="876.7" r="11.8"/>
<circle cx="906.2" cy="869.5" r="11.8"/>
<circle cx="937.6" cy="844.2" r="11.8"/>
<circle cx="969.0" cy="825.6" r="11.8"/>
<circle cx="1000.4" cy="811.7" r="11.8"/>
<circle cx="1031.8" cy="798.5" r="11.8"/>
<circle cx="1063.3" cy="793.7" r="11.8"/>
<circle cx="1094.7" cy="787.1" r="11.8"/>
<circle cx="1126.1" cy="782.3" r="11.8"/>
<circle cx="1157.5" cy="777.4" r="11.8"/>
<circle cx="1188.9" cy="758.8" r="11.8"/>
<circle cx="1220.4" cy="750.4" r="11.8"/>
<circle cx="1251.8" cy="738.9" r="11.8"/>
<circle cx="1283.2" cy="734.1" r="11.8"/>
<circle cx="1314.6" cy="720.3" r="11.8"/>
<circle cx="1346.0" cy="699.2" r="11.8"/>
<circle cx="1377.5" cy="691.4" r="11.8"/>
<circle cx="1408.9" cy="681.8" r="11.8"/>
<circle cx="1440.3" cy="673.3" r="11.8"/>
<circle cx="1471.7" cy="662.5" r="11.8"/>
<circle cx="1503.1" cy="652.9" r="11.8"/>
<circle cx="1534.6" cy="640.3" r="11.8"/>
<circle cx="1566.0" cy="631.2" r="11.8"/>
<circle cx="1597.4" cy="611.4" r="11.8"/>
<circle cx="1628.8" cy="603.5" r="11.8"/>
<circle cx="1660.2" cy="568.0" r="11.8"/>
<circle cx="1691.7" cy="542.2" r="11.8"/>
<circle cx="1723.1" cy="524.1" r="11.8"/>
<circle cx="1754.5" cy="511.5" r="11.8"/>
<circle cx="1785.9" cy="489.8" r="11.8"/>
</g>
<g id="philippines" fill="#20537D">
<polyline points="26.4,1235.9 57.8,1231.7 89.2,1226.3 120.7,1217.9 152.1,1216.1 183.5,1211.9 214.9,1205.9 246.3,1201.0 277.8,1194.4 309.2,1172.2 340.6,1167.3 372.0,1160.7 403.4,1152.3 434.9,1149.3 466.3,1136.7 497.7,1125.8 529.1,1110.2 560.5,1080.1 592.0,1069.3 623.4,1057.2 654.8,1048.8 686.2,1041.0 717.6,1025.9 749.1,1019.9 780.5,1012.7 811.9,1001.3 843.3,995.9 874.7,990.4 906.2,980.8 937.6,971.8 969.0,961.6 1000.4,957.3 1031.8,951.3 1063.3,939.9 1094.7,923.1 1126.1,917.0 1157.5,910.4 1188.9,896.0 1220.4,893.6 1251.8,883.9 1283.2,875.5 1314.6,862.9 1346.0,846.6 1377.5,840.0 1408.9,835.2 1440.3,826.2 1471.7,822.0 1503.1,806.9 1534.6,794.3 1566.0,783.5 1597.4,773.8 1628.8,767.2 1660.2,763.0 1691.7,758.8 1723.1,755.2 1754.5,752.2 1785.9,749.8" fill="none" stroke="#20537D" stroke-width="6.8" stroke-linejoin="round" stroke-linecap="round"/>
<circle cx="26.4" cy="1235.9" r="11.8"/>
<circle cx="57.8" cy="1231.7" r="11.8"/>
<circle cx="89.2" cy="1226.3" r="11.8"/>
<circle cx="120.7" cy="1217.9" r="11.8"/>
<circle cx="152.1" cy="1216.1" r="11.8"/>
<circle cx="183.5" cy="1211.9" r="11.8"/>
<circle cx="214.9" cy="1205.9" r="11.8"/>
<circle cx="246.3" cy="1201.0" r="11.8"/>
<circle cx="277.8" cy="1194.4" r="11.8"/>
<circle cx="309.2" cy="1172.2" r="11.8"/>
<circle cx="340.6" cy="1167.3" r="11.8"/>
<circle cx="372.0" cy="1160.7" r="11.8"/>
<circle cx="403.4" cy="1152.3" r="11.8"/>
<circle cx="434.9" cy="1149.3" r="11.8"/>
<circle cx="466.3" cy="1136.7" r="11.8"/>
<circle cx="497.7" cy="1125.8" r="11.8"/>
<circle cx="529.1" cy="1110.2" r="11.8"/>
<circle cx="560.5" cy="1080.1" r="11.8"/>
<circle cx="592.0" cy="1069.3" r="11.8"/>
<circle cx="623.4" cy="1057.2" r="11.8"/>
<circle cx="654.8" cy="1048.8" r="11.8"/>
<circle cx="686.2" cy="1041.0" r="11.8"/>
<circle cx="717.6" cy="1025.9" r="11.8"/>
<circle cx="749.1" cy="1019.9" r="11.8"/>
<circle cx="780.5" cy="1012.7" r="11.8"/>
<circle cx="811.9" cy="1001.3" r="11.8"/>
<circle cx="843.3" cy="995.9" r="11.8"/>
<circle cx="874.7" cy="990.4" r="11.8"/>
<circle cx="906.2" cy="980.8" r="11.8"/>
<circle cx="937.6" cy="971.8" r="11.8"/>
<circle cx="969.0" cy="961.6" r="11.8"/>
<circle cx="1000.4" cy="957.3" r="11.8"/>
<circle cx="1031.8" cy="951.3" r="11.8"/>
<circle cx="1063.3" cy="939.9" r="11.8"/>
<circle cx="1094.7" cy="923.1" r="11.8"/>
<circle cx="1126.1" cy="917.0" r="11.8"/>
<circle cx="1157.5" cy="910.4" r="11.8"/>
<circle cx="1188.9" cy="896.0" r="11.8"/>
<circle cx="1220.4" cy="893.6" r="11.8"/>
<circle cx="1251.8" cy="883.9" r="11.8"/>
<circle cx="1283.2" cy="875.5" r="11.8"/>
<circle cx="1314.6" cy="862.9" r="11.8"/>
<circle cx="1346.0" cy="846.6" r="11.8"/>
<circle cx="1377.5" cy="840.0" r="11.8"/>
<circle cx="1408.9" cy="835.2" r="11.8"/>
<circle cx="1440.3" cy="826.2" r="11.8"/>
<circle cx="1471.7" cy="822.0" r="11.8"/>
<circle cx="1503.1" cy="806.9" r="11.8"/>
<circle cx="1534.6" cy="794.3" r="11.8"/>
<circle cx="1566.0" cy="783.5" r="11.8"/>
<circle cx="1597.4" cy="773.8" r="11.8"/>
<circle cx="1628.8" cy="767.2" r="11.8"/>
<circle cx="1660.2" cy="763.0" r="11.8"/>
<circle cx="1691.7" cy="758.8" r="11.8"/>
<circle cx="1723.1" cy="755.2" r="11.8"/>
<circle cx="1754.5" cy="752.2" r="11.8"/>
<circle cx="1785.9" cy="749.8" r="11.8"/>
</g>
<g id="thailand" fill="#FF0000">
<polyline points="26.4,1256.4 57.8,1256.4 89.2,1255.8 120.7,1255.2 152.1,1254.6 183.5,1253.4 214.9,1252.8 246.3,1251.6 277.8,1249.8 309.2,1246.8 340.6,1245.0 372.0,1243.2 403.4,1242.6 434.9,1240.7 466.3,1239.5 497.7,1238.9 529.1,1237.7 560.5,1235.9 592.0,1234.7 623.4,1234.1 654.8,1232.9 686.2,1231.1 717.6,1230.5 749.1,1230.5 780.5,1230.5 811.9,1230.5 843.3,1229.9 874.7,1229.3 906.2,1228.7 937.6,1228.7 969.0,1228.1 1000.4,1228.1 1031.8,1227.5 1063.3,1226.3 1094.7,1226.3 1126.1,1226.3 1157.5,1226.3 1188.9,1226.3 1220.4,1226.3 1251.8,1226.3 1283.2,1225.7 1314.6,1225.7 1346.0,1225.7 1377.5,1225.1 1408.9,1225.1 1440.3,1225.1 1471.7,1225.1 1503.1,1225.1 1534.6,1225.1 1566.0,1225.1 1597.4,1225.1 1628.8,1225.1 1660.2,1225.1 1691.7,1225.1 1723.1,1225.1 1754.5,1225.1 1785.9,1225.1" fill="none" stroke="#FF0000" stroke-width="6.8" stroke-linejoin="round" stroke-linecap="round"/>
<circle cx="26.4" cy="1256.4" r="11.5"/>
<circle cx="57.8" cy="1256.4" r="11.5"/>
<circle cx="89.2" cy="1255.8" r="11.5"/>
<circle cx="120.7" cy="1255.2" r="11.5"/>
<circle cx="152.1" cy="1254.6" r="11.5"/>
<circle cx="183.5" cy="1253.4" r="11.5"/>
<circle cx="214.9" cy="1252.8" r="11.5"/>
<circle cx="246.3" cy="1251.6" r="11.5"/>
<circle cx="277.8" cy="1249.8" r="11.5"/>
<circle cx="309.2" cy="1246.8" r="11.5"/>
<circle cx="340.6" cy="1245.0" r="11.5"/>
<circle cx="372.0" cy="1243.2" r="11.5"/>
<circle cx="403.4" cy="1242.6" r="11.5"/>
<circle cx="434.9" cy="1240.7" r="11.5"/>
<circle cx="466.3" cy="1239.5" r="11.5"/>
<circle cx="497.7" cy="1238.9" r="11.5"/>
<circle cx="529.1" cy="1237.7" r="11.5"/>
<circle cx="560.5" cy="1235.9" r="11.5"/>
<circle cx="592.0" cy="1234.7" r="11.5"/>
<circle cx="623.4" cy="1234.1" r="11.5"/>
<circle cx="654.8" cy="1232.9" r="11.5"/>
<circle cx="686.2" cy="1231.1" r="11.5"/>
<circle cx="717.6" cy="1230.5" r="11.5"/>
<circle cx="749.1" cy="1230.5" r="11.5"/>
<circle cx="780.5" cy="1230.5" r="11.5"/>
<circle cx="811.9" cy="1230.5" r="11.5"/>
<circle cx="843.3" cy="1229.9" r="11.5"/>
<circle cx="874.7" cy="1229.3" r="11.5"/>
<circle cx="906.2" cy="1228.7" r="11.5"/>
<circle cx="937.6" cy="1228.7" r="11.5"/>
<circle cx="969.0" cy="1228.1" r="11.5"/>
<circle cx="1000.4" cy="1228.1" r="11.5"/>
<circle cx="1031.8" cy="1227.5" r="11.5"/>
<circle cx="1063.3" cy="1226.3" r="11.5"/>
<circle cx="1094.7" cy="1226.3" r="11.5"/>
<circle cx="1126.1" cy="1226.3" r="11.5"/>
<circle cx="1157.5" cy="1226.3" r="11.5"/>
<circle cx="1188.9" cy="1226.3" r="11.5"/>
<circle cx="1220.4" cy="1226.3" r="11.5"/>
<circle cx="1251.8" cy="1226.3" r="11.5"/>
<circle cx="1283.2" cy="1225.7" r="11.5"/>
<circle cx="1314.6" cy="1225.7" r="11.5"/>
<circle cx="1346.0" cy="1225.7" r="11.5"/>
<circle cx="1377.5" cy="1225.1" r="11.5"/>
<circle cx="1408.9" cy="1225.1" r="11.5"/>
<circle cx="1440.3" cy="1225.1" r="11.5"/>
<circle cx="1471.7" cy="1225.1" r="11.5"/>
<circle cx="1503.1" cy="1225.1" r="11.5"/>
<circle cx="1534.6" cy="1225.1" r="11.5"/>
<circle cx="1566.0" cy="1225.1" r="11.5"/>
<circle cx="1597.4" cy="1225.1" r="11.5"/>
<circle cx="1628.8" cy="1225.1" r="11.5"/>
<circle cx="1660.2" cy="1225.1" r="11.5"/>
<circle cx="1691.7" cy="1225.1" r="11.5"/>
<circle cx="1723.1" cy="1225.1" r="11.5"/>
<circle cx="1754.5" cy="1225.1" r="11.5"/>
<circle cx="1785.9" cy="1225.1" r="11.5"/>
</g>
<g id="myanmar" fill="#7030A0">
<polyline points="26.4,1258.8 57.8,1258.8 89.2,1258.8 120.7,1258.8 152.1,1258.8 183.5,1258.8 214.9,1258.2 246.3,1258.2 277.8,1258.2 309.2,1258.2 340.6,1258.2 372.0,1258.2 403.4,1258.2 434.9,1257.0 466.3,1257.0 497.7,1257.0 529.1,1257.0 560.5,1256.4 592.0,1256.4 623.4,1256.4 654.8,1256.4 686.2,1256.4 717.6,1255.8 749.1,1255.8 780.5,1255.8 811.9,1255.8 843.3,1255.8 874.7,1255.8 906.2,1255.8 937.6,1255.8 969.0,1255.8 1000.4,1255.8 1031.8,1255.8 1063.3,1255.8 1094.7,1255.8 1126.1,1255.2 1157.5,1255.2 1188.9,1255.2 1220.4,1255.2 1251.8,1255.2 1283.2,1255.2 1314.6,1255.2 1346.0,1255.2 1377.5,1255.2 1408.9,1255.2 1440.3,1255.2 1471.7,1255.2 1503.1,1255.2 1534.6,1255.2 1566.0,1255.2 1597.4,1255.2 1628.8,1255.2 1660.2,1255.2 1691.7,1255.2 1723.1,1255.2 1754.5,1255.2 1785.9,1255.2" fill="none" stroke="#7030A0" stroke-width="5.9" stroke-linejoin="round" stroke-linecap="round"/>
<circle cx="26.4" cy="1258.8" r="8.9"/>
<circle cx="57.8" cy="1258.8" r="8.9"/>
<circle cx="89.2" cy="1258.8" r="8.9"/>
<circle cx="120.7" cy="1258.8" r="8.9"/>
<circle cx="152.1" cy="1258.8" r="8.9"/>
<circle cx="183.5" cy="1258.8" r="8.9"/>
<circle cx="214.9" cy="1258.2" r="8.9"/>
<circle cx="246.3" cy="1258.2" r="8.9"/>
<circle cx="277.8" cy="1258.2" r="8.9"/>
<circle cx="309.2" cy="1258.2" r="8.9"/>
<circle cx="340.6" cy="1258.2" r="8.9"/>
<circle cx="372.0" cy="1258.2" r="8.9"/>
<circle cx="403.4" cy="1258.2" r="8.9"/>
<circle cx="434.9" cy="1257.0" r="8.9"/>
<circle cx="466.3" cy="1257.0" r="8.9"/>
<circle cx="497.7" cy="1257.0" r="8.9"/>
<circle cx="529.1" cy="1257.0" r="8.9"/>
<circle cx="560.5" cy="1256.4" r="8.9"/>
<circle cx="592.0" cy="1256.4" r="8.9"/>
<circle cx="623.4" cy="1256.4" r="8.9"/>
<circle cx="654.8" cy="1256.4" r="8.9"/>
<circle cx="686.2" cy="1256.4" r="8.9"/>
<circle cx="717.6" cy="1255.8" r="8.9"/>
<circle cx="749.1" cy="1255.8" r="8.9"/>
<circle cx="780.5" cy="1255.8" r="8.9"/>
<circle cx="811.9" cy="1255.8" r="8.9"/>
<circle cx="843.3" cy="1255.8" r="8.9"/>
<circle cx="874.7" cy="1255.8" r="8.9"/>
<circle cx="906.2" cy="1255.8" r="8.9"/>
<circle cx="937.6" cy="1255.8" r="8.9"/>
<circle cx="969.0" cy="1255.8" r="8.9"/>
<circle cx="1000.4" cy="1255.8" r="8.9"/>
<circle cx="1031.8" cy="1255.8" r="8.9"/>
<circle cx="1063.3" cy="1255.8" r="8.9"/>
<circle cx="1094.7" cy="1255.8" r="8.9"/>
<circle cx="1126.1" cy="1255.2" r="8.9"/>
<circle cx="1157.5" cy="1255.2" r="8.9"/>
<circle cx="1188.9" cy="1255.2" r="8.9"/>
<circle cx="1220.4" cy="1255.2" r="8.9"/>
<circle cx="1251.8" cy="1255.2" r="8.9"/>
<circle cx="1283.2" cy="1255.2" r="8.9"/>
<circle cx="1314.6" cy="1255.2" r="8.9"/>
<circle cx="1346.0" cy="1255.2" r="8.9"/>
<circle cx="1377.5" cy="1255.2" r="8.9"/>
<circle cx="1408.9" cy="1255.2" r="8.9"/>
<circle cx="1440.3" cy="1255.2" r="8.9"/>
<circle cx="1471.7" cy="1255.2" r="8.9"/>
<circle cx="1503.1" cy="1255.2" r="8.9"/>
<circle cx="1534.6" cy="1255.2" r="8.9"/>
<circle cx="1566.0" cy="1255.2" r="8.9"/>
<circle cx="1597.4" cy="1255.2" r="8.9"/>
<circle cx="1628.8" cy="1255.2" r="8.9"/>
<circle cx="1660.2" cy="1255.2" r="8.9"/>
<circle cx="1691.7" cy="1255.2" r="8.9"/>
<circle cx="1723.1" cy="1255.2" r="8.9"/>
<circle cx="1754.5" cy="1255.2" r="8.9"/>
<circle cx="1785.9" cy="1255.2" r="8.9"/>
</g>
<text x="1798.2" y="477.5" font-family="Sarabun, 'TH Sarabun New', 'Noto Sans Thai', 'Liberation Sans', sans-serif" font-size="41.4" font-weight="500" fill="#548235" textLength="161.4" lengthAdjust="spacingAndGlyphs">อินโดนีเซีย</text>
<text x="1807.1" y="747.1" font-family="Sarabun, 'TH Sarabun New', 'Noto Sans Thai', 'Liberation Sans', sans-serif" font-size="40.2" font-weight="600" fill="#0D1E5E" textLength="142.0" lengthAdjust="spacingAndGlyphs">ฟิลิปปินส์</text>
<text x="1807.6" y="1164.2" font-family="Sarabun, 'TH Sarabun New', 'Noto Sans Thai', 'Liberation Sans', sans-serif" font-size="36.2" font-weight="500" fill="#04B0F2" textLength="132.0" lengthAdjust="spacingAndGlyphs">มาเลเซีย</text>
<text x="1820.6" y="1232.9" font-family="Sarabun, 'TH Sarabun New', 'Noto Sans Thai', 'Liberation Sans', sans-serif" font-size="58.8" font-weight="600" fill="#FF0000" textLength="92.1" lengthAdjust="spacingAndGlyphs">ไทย</text>
<text x="1816.8" y="1273.9" font-family="Sarabun, 'TH Sarabun New', 'Noto Sans Thai', 'Liberation Sans', sans-serif" font-size="36.2" font-weight="500" fill="#ED7D31" textLength="107.0" lengthAdjust="spacingAndGlyphs">สิงคโปร์</text>
<text x="1818.6" y="1313.5" font-family="Sarabun, 'TH Sarabun New', 'Noto Sans Thai', 'Liberation Sans', sans-serif" font-size="36.0" font-weight="600" fill="#7030A0" textLength="62.8" lengthAdjust="spacingAndGlyphs">พม่า</text>
<text x="12.7" y="1315.7" font-family="Sarabun, 'TH Sarabun New', 'Noto Sans Thai', 'Liberation Sans', sans-serif" font-size="24.8" font-weight="300" fill="#5c5c5c" textLength="28.4" lengthAdjust="spacingAndGlyphs">26</text>
<text x="44.3" y="1315.7" font-family="Sarabun, 'TH Sarabun New', 'Noto Sans Thai', 'Liberation Sans', sans-serif" font-size="24.8" font-weight="300" fill="#5c5c5c" textLength="28.4" lengthAdjust="spacingAndGlyphs">27</text>
<text x="75.6" y="1315.7" font-family="Sarabun, 'TH Sarabun New', 'Noto Sans Thai', 'Liberation Sans', sans-serif" font-size="24.8" font-weight="300" fill="#5c5c5c" textLength="28.4" lengthAdjust="spacingAndGlyphs">28</text>
<text x="107.0" y="1315.7" font-family="Sarabun, 'TH Sarabun New', 'Noto Sans Thai', 'Liberation Sans', sans-serif" font-size="24.8" font-weight="300" fill="#5c5c5c" textLength="28.4" lengthAdjust="spacingAndGlyphs">29</text>
<text x="138.3" y="1315.7" font-family="Sarabun, 'TH Sarabun New', 'Noto Sans Thai', 'Liberation Sans', sans-serif" font-size="24.8" font-weight="300" fill="#5c5c5c" textLength="28.4" lengthAdjust="spacingAndGlyphs">30</text>
<text x="170.3" y="1315.7" font-family="Sarabun, 'TH Sarabun New', 'Noto Sans Thai', 'Liberation Sans', sans-serif" font-size="24.8" font-weight="300" fill="#5c5c5c" textLength="28.4" lengthAdjust="spacingAndGlyphs">31</text>
<text x="208.1" y="1315.7" font-family="Sarabun, 'TH Sarabun New', 'Noto Sans Thai', 'Liberation Sans', sans-serif" font-size="24.8" font-weight="300" fill="#5c5c5c" textLength="14.2" lengthAdjust="spacingAndGlyphs">1</text>
<text x="239.8" y="1315.7" font-family="Sarabun, 'TH Sarabun New', 'Noto Sans Thai', 'Liberation Sans', sans-serif" font-size="24.8" font-weight="300" fill="#5c5c5c" textLength="14.2" lengthAdjust="spacingAndGlyphs">2</text>
<text x="271.0" y="1315.7" font-family="Sarabun, 'TH Sarabun New', 'Noto Sans Thai', 'Liberation Sans', sans-serif" font-size="24.8" font-weight="300" fill="#5c5c5c" textLength="14.2" lengthAdjust="spacingAndGlyphs">3</text>
<text x="302.7" y="1315.7" font-family="Sarabun, 'TH Sarabun New', 'Noto Sans Thai', 'Liberation Sans', sans-serif" font-size="24.8" font-weight="300" fill="#5c5c5c" textLength="14.2" lengthAdjust="spacingAndGlyphs">4</text>
<text x="334.0" y="1315.7" font-family="Sarabun, 'TH Sarabun New', 'Noto Sans Thai', 'Liberation Sans', sans-serif" font-size="24.8" font-weight="300" fill="#5c5c5c" textLength="14.2" lengthAdjust="spacingAndGlyphs">5</text>
<text x="365.4" y="1315.7" font-family="Sarabun, 'TH Sarabun New', 'Noto Sans Thai', 'Liberation Sans', sans-serif" font-size="24.8" font-weight="300" fill="#5c5c5c" textLength="14.2" lengthAdjust="spacingAndGlyphs">6</text>
<text x="396.9" y="1315.7" font-family="Sarabun, 'TH Sarabun New', 'Noto Sans Thai', 'Liberation Sans', sans-serif" font-size="24.8" font-weight="300" fill="#5c5c5c" textLength="14.2" lengthAdjust="spacingAndGlyphs">7</text>
<text x="428.3" y="1315.7" font-family="Sarabun, 'TH Sarabun New', 'Noto Sans Thai', 'Liberation Sans', sans-serif" font-size="24.8" font-weight="300" fill="#5c5c5c" textLength="14.2" lengthAdjust="spacingAndGlyphs">8</text>
<text x="459.7" y="1315.7" font-family="Sarabun, 'TH Sarabun New', 'Noto Sans Thai', 'Liberation Sans', sans-serif" font-size="24.8" font-weight="300" fill="#5c5c5c" textLength="14.2" lengthAdjust="spacingAndGlyphs">9</text>
<text x="483.1" y="1315.7" font-family="Sarabun, 'TH Sarabun New', 'Noto Sans Thai', 'Liberation Sans', sans-serif" font-size="24.8" font-weight="300" fill="#5c5c5c" textLength="28.4" lengthAdjust="spacingAndGlyphs">10</text>
<text x="515.2" y="1315.7" font-family="Sarabun, 'TH Sarabun New', 'Noto Sans Thai', 'Liberation Sans', sans-serif" font-size="24.8" font-weight="300" fill="#5c5c5c" textLength="28.4" lengthAdjust="spacingAndGlyphs">11</text>
<text x="545.9" y="1315.7" font-family="Sarabun, 'TH Sarabun New', 'Noto Sans Thai', 'Liberation Sans', sans-serif" font-size="24.8" font-weight="300" fill="#5c5c5c" textLength="28.4" lengthAdjust="spacingAndGlyphs">12</text>
<text x="577.4" y="1315.7" font-family="Sarabun, 'TH Sarabun New', 'Noto Sans Thai', 'Liberation Sans', sans-serif" font-size="24.8" font-weight="300" fill="#5c5c5c" textLength="28.4" lengthAdjust="spacingAndGlyphs">13</text>
<text x="608.6" y="1315.7" font-family="Sarabun, 'TH Sarabun New', 'Noto Sans Thai', 'Liberation Sans', sans-serif" font-size="24.8" font-weight="300" fill="#5c5c5c" textLength="28.4" lengthAdjust="spacingAndGlyphs">14</text>
<text x="640.2" y="1315.7" font-family="Sarabun, 'TH Sarabun New', 'Noto Sans Thai', 'Liberation Sans', sans-serif" font-size="24.8" font-weight="300" fill="#5c5c5c" textLength="28.4" lengthAdjust="spacingAndGlyphs">15</text>
<text x="671.6" y="1315.7" font-family="Sarabun, 'TH Sarabun New', 'Noto Sans Thai', 'Liberation Sans', sans-serif" font-size="24.8" font-weight="300" fill="#5c5c5c" textLength="28.4" lengthAdjust="spacingAndGlyphs">16</text>
<text x="703.2" y="1315.7" font-family="Sarabun, 'TH Sarabun New', 'Noto Sans Thai', 'Liberation Sans', sans-serif" font-size="24.8" font-weight="300" fill="#5c5c5c" textLength="28.4" lengthAdjust="spacingAndGlyphs">17</text>
<text x="734.5" y="1315.7" font-family="Sarabun, 'TH Sarabun New', 'Noto Sans Thai', 'Liberation Sans', sans-serif" font-size="24.8" font-weight="300" fill="#5c5c5c" textLength="28.4" lengthAdjust="spacingAndGlyphs">18</text>
<text x="765.9" y="1315.7" font-family="Sarabun, 'TH Sarabun New', 'Noto Sans Thai', 'Liberation Sans', sans-serif" font-size="24.8" font-weight="300" fill="#5c5c5c" textLength="28.4" lengthAdjust="spacingAndGlyphs">19</text>
<text x="798.2" y="1315.7" font-family="Sarabun, 'TH Sarabun New', 'Noto Sans Thai', 'Liberation Sans', sans-serif" font-size="24.8" font-weight="300" fill="#5c5c5c" textLength="28.4" lengthAdjust="spacingAndGlyphs">20</text>
<text x="830.3" y="1315.7" font-family="Sarabun, 'TH Sarabun New', 'Noto Sans Thai', 'Liberation Sans', sans-serif" font-size="24.8" font-weight="300" fill="#5c5c5c" textLength="28.4" lengthAdjust="spacingAndGlyphs">21</text>
<text x="861.1" y="1315.7" font-family="Sarabun, 'TH Sarabun New', 'Noto Sans Thai', 'Liberation Sans', sans-serif" font-size="24.8" font-weight="300" fill="#5c5c5c" textLength="28.4" lengthAdjust="spacingAndGlyphs">22</text>
<text x="892.5" y="1315.7" font-family="Sarabun, 'TH Sarabun New', 'Noto Sans Thai', 'Liberation Sans', sans-serif" font-size="24.8" font-weight="300" fill="#5c5c5c" textLength="28.4" lengthAdjust="spacingAndGlyphs">23</text>
<text x="923.8" y="1315.7" font-family="Sarabun, 'TH Sarabun New', 'Noto Sans Thai', 'Liberation Sans', sans-serif" font-size="24.8" font-weight="300" fill="#5c5c5c" textLength="28.4" lengthAdjust="spacingAndGlyphs">24</text>
<text x="955.3" y="1315.7" font-family="Sarabun, 'TH Sarabun New', 'Noto Sans Thai', 'Liberation Sans', sans-serif" font-size="24.8" font-weight="300" fill="#5c5c5c" textLength="28.4" lengthAdjust="spacingAndGlyphs">25</text>
<text x="986.7" y="1315.7" font-family="Sarabun, 'TH Sarabun New', 'Noto Sans Thai', 'Liberation Sans', sans-serif" font-size="24.8" font-weight="300" fill="#5c5c5c" textLength="28.4" lengthAdjust="spacingAndGlyphs">26</text>
<text x="1018.3" y="1315.7" font-family="Sarabun, 'TH Sarabun New', 'Noto Sans Thai', 'Liberation Sans', sans-serif" font-size="24.8" font-weight="300" fill="#5c5c5c" textLength="28.4" lengthAdjust="spacingAndGlyphs">27</text>
<text x="1049.6" y="1315.7" font-family="Sarabun, 'TH Sarabun New', 'Noto Sans Thai', 'Liberation Sans', sans-serif" font-size="24.8" font-weight="300" fill="#5c5c5c" textLength="28.4" lengthAdjust="spacingAndGlyphs">28</text>
<text x="1081.0" y="1315.7" font-family="Sarabun, 'TH Sarabun New', 'Noto Sans Thai', 'Liberation Sans', sans-serif" font-size="24.8" font-weight="300" fill="#5c5c5c" textLength="28.4" lengthAdjust="spacingAndGlyphs">29</text>
<text x="1112.3" y="1315.7" font-family="Sarabun, 'TH Sarabun New', 'Noto Sans Thai', 'Liberation Sans', sans-serif" font-size="24.8" font-weight="300" fill="#5c5c5c" textLength="28.4" lengthAdjust="spacingAndGlyphs">30</text>
<text x="1150.7" y="1315.7" font-family="Sarabun, 'TH Sarabun New', 'Noto Sans Thai', 'Liberation Sans', sans-serif" font-size="24.8" font-weight="300" fill="#5c5c5c" textLength="14.2" lengthAdjust="spacingAndGlyphs">1</text>
<text x="1182.4" y="1315.7" font-family="Sarabun, 'TH Sarabun New', 'Noto Sans Thai', 'Liberation Sans', sans-serif" font-size="24.8" font-weight="300" fill="#5c5c5c" textLength="14.2" lengthAdjust="spacingAndGlyphs">2</text>
<text x="1213.6" y="1315.7" font-family="Sarabun, 'TH Sarabun New', 'Noto Sans Thai', 'Liberation Sans', sans-serif" font-size="24.8" font-weight="300" fill="#5c5c5c" textLength="14.2" lengthAdjust="spacingAndGlyphs">3</text>
<text x="1245.3" y="1315.7" font-family="Sarabun, 'TH Sarabun New', 'Noto Sans Thai', 'Liberation Sans', sans-serif" font-size="24.8" font-weight="300" fill="#5c5c5c" textLength="14.2" lengthAdjust="spacingAndGlyphs">4</text>
<text x="1276.6" y="1315.7" font-family="Sarabun, 'TH Sarabun New', 'Noto Sans Thai', 'Liberation Sans', sans-serif" font-size="24.8" font-weight="300" fill="#5c5c5c" textLength="14.2" lengthAdjust="spacingAndGlyphs">5</text>
<text x="1308.0" y="1315.7" font-family="Sarabun, 'TH Sarabun New', 'Noto Sans Thai', 'Liberation Sans', sans-serif" font-size="24.8" font-weight="300" fill="#5c5c5c" textLength="14.2" lengthAdjust="spacingAndGlyphs">6</text>
<text x="1339.5" y="1315.7" font-family="Sarabun, 'TH Sarabun New', 'Noto Sans Thai', 'Liberation Sans', sans-serif" font-size="24.8" font-weight="300" fill="#5c5c5c" textLength="14.2" lengthAdjust="spacingAndGlyphs">7</text>
<text x="1370.9" y="1315.7" font-family="Sarabun, 'TH Sarabun New', 'Noto Sans Thai', 'Liberation Sans', sans-serif" font-size="24.8" font-weight="300" fill="#5c5c5c" textLength="14.2" lengthAdjust="spacingAndGlyphs">8</text>
<text x="1402.3" y="1315.7" font-family="Sarabun, 'TH Sarabun New', 'Noto Sans Thai', 'Liberation Sans', sans-serif" font-size="24.8" font-weight="300" fill="#5c5c5c" textLength="14.2" lengthAdjust="spacingAndGlyphs">9</text>
<text x="1425.7" y="1315.7" font-family="Sarabun, 'TH Sarabun New', 'Noto Sans Thai', 'Liberation Sans', sans-serif" font-size="24.8" font-weight="300" fill="#5c5c5c" textLength="28.4" lengthAdjust="spacingAndGlyphs">10</text>
<text x="1457.8" y="1315.7" font-family="Sarabun, 'TH Sarabun New', 'Noto Sans Thai', 'Liberation Sans', sans-serif" font-size="24.8" font-weight="300" fill="#5c5c5c" textLength="28.4" lengthAdjust="spacingAndGlyphs">11</text>
<text x="1488.5" y="1315.7" font-family="Sarabun, 'TH Sarabun New', 'Noto Sans Thai', 'Liberation Sans', sans-serif" font-size="24.8" font-weight="300" fill="#5c5c5c" textLength="28.4" lengthAdjust="spacingAndGlyphs">12</text>
<text x="1520.0" y="1315.7" font-family="Sarabun, 'TH Sarabun New', 'Noto Sans Thai', 'Liberation Sans', sans-serif" font-size="24.8" font-weight="300" fill="#5c5c5c" textLength="28.4" lengthAdjust="spacingAndGlyphs">13</text>
<text x="1551.2" y="1315.7" font-family="Sarabun, 'TH Sarabun New', 'Noto Sans Thai', 'Liberation Sans', sans-serif" font-size="24.8" font-weight="300" fill="#5c5c5c" textLength="28.4" lengthAdjust="spacingAndGlyphs">14</text>
<text x="1582.8" y="1315.7" font-family="Sarabun, 'TH Sarabun New', 'Noto Sans Thai', 'Liberation Sans', sans-serif" font-size="24.8" font-weight="300" fill="#5c5c5c" textLength="28.4" lengthAdjust="spacingAndGlyphs">15</text>
<text x="1614.2" y="1315.7" font-family="Sarabun, 'TH Sarabun New', 'Noto Sans Thai', 'Liberation Sans', sans-serif" font-size="24.8" font-weight="300" fill="#5c5c5c" textLength="28.4" lengthAdjust="spacingAndGlyphs">16</text>
<text x="1645.8" y="1315.7" font-family="Sarabun, 'TH Sarabun New', 'Noto Sans Thai', 'Liberation Sans', sans-serif" font-size="24.8" font-weight="300" fill="#5c5c5c" textLength="28.4" lengthAdjust="spacingAndGlyphs">17</text>
<text x="1677.1" y="1315.7" font-family="Sarabun, 'TH Sarabun New', 'Noto Sans Thai', 'Liberation Sans', sans-serif" font-size="24.8" font-weight="300" fill="#5c5c5c" textLength="28.4" lengthAdjust="spacingAndGlyphs">18</text>
<text x="1708.5" y="1315.7" font-family="Sarabun, 'TH Sarabun New', 'Noto Sans Thai', 'Liberation Sans', sans-serif" font-size="24.8" font-weight="300" fill="#5c5c5c" textLength="28.4" lengthAdjust="spacingAndGlyphs">19</text>
<text x="1740.8" y="1315.7" font-family="Sarabun, 'TH Sarabun New', 'Noto Sans Thai', 'Liberation Sans', sans-serif" font-size="24.8" font-weight="300" fill="#5c5c5c" textLength="28.4" lengthAdjust="spacingAndGlyphs">20</text>
<text x="1772.9" y="1315.7" font-family="Sarabun, 'TH Sarabun New', 'Noto Sans Thai', 'Liberation Sans', sans-serif" font-size="24.8" font-weight="300" fill="#5c5c5c" textLength="28.4" lengthAdjust="spacingAndGlyphs">21</text>
<line x1="11.3" y1="1334.2" x2="190" y2="1334.2" stroke="#1F5080" stroke-width="3.4"/>
<path d="M1.3 1334.2 l16.5 -8.2 v16.4 Z" fill="#1F5080"/>
<path d="M200 1334.2 l-16.5 -8.2 v16.4 Z" fill="#1F5080"/>
<line x1="212.6" y1="1334.2" x2="1141.6" y2="1334.2" stroke="#1F5080" stroke-width="3.4"/>
<path d="M202.6 1334.2 l16.5 -8.2 v16.4 Z" fill="#1F5080"/>
<path d="M1151.6 1334.2 l-16.5 -8.2 v16.4 Z" fill="#1F5080"/>
<line x1="1169" y1="1334.2" x2="1785" y2="1334.2" stroke="#1F5080" stroke-width="3.4"/>
<path d="M1159 1334.2 l16.5 -8.2 v16.4 Z" fill="#1F5080"/>
<path d="M1795 1334.2 l-16.5 -8.2 v16.4 Z" fill="#1F5080"/>
<text x="31.7" y="1373.6" font-family="Sarabun, 'TH Sarabun New', 'Noto Sans Thai', 'Liberation Sans', sans-serif" font-size="30.0" fill="#363636" textLength="165.6" lengthAdjust="spacingAndGlyphs">มีนาคม 2563</text>
<text x="588.8" y="1367.9" font-family="Sarabun, 'TH Sarabun New', 'Noto Sans Thai', 'Liberation Sans', sans-serif" font-size="34.6" fill="#363636" textLength="199.3" lengthAdjust="spacingAndGlyphs">เมษายน 2563</text>
<text x="1413.3" y="1374.0" font-family="Sarabun, 'TH Sarabun New', 'Noto Sans Thai', 'Liberation Sans', sans-serif" font-size="34.6" fill="#363636" textLength="232.1" lengthAdjust="spacingAndGlyphs">พฤษภาคม 2563</text>
</g>
<g id="footer">
<text x="21.1" y="1421.5" font-family="Sarabun, 'TH Sarabun New', 'Noto Sans Thai', 'Liberation Sans', sans-serif" font-size="31.4" fill="#111" textLength="377.2" lengthAdjust="spacingAndGlyphs">แหล่งข้อมูล: องค์การอนามัยโลก</text>
<text x="404.9" y="1421.5" font-family="Sarabun, 'TH Sarabun New', 'Noto Sans Thai', 'Liberation Sans', sans-serif" font-size="30.8" font-weight="300" fill="#111" textLength="703.0" lengthAdjust="spacingAndGlyphs">(WHO), Johns Hopkins University, worldometers.info,</text>
<text x="1115.4" y="1421.5" font-family="Sarabun, 'TH Sarabun New', 'Noto Sans Thai', 'Liberation Sans', sans-serif" font-size="31.4" fill="#111" textLength="368.6" lengthAdjust="spacingAndGlyphs">สำนักงานการวิจัยแห่งชาติ (วช.)</text>
<rect x="0" y="1432.0" width="2048" height="68" fill="#ED7D31"/>
<text x="147.3" y="1480.4" font-family="Sarabun, 'TH Sarabun New', 'Noto Sans Thai', 'Liberation Sans', sans-serif" font-size="35.4" font-weight="500" fill="#fff" textLength="528.0" lengthAdjust="spacingAndGlyphs">ศูนย์ปฏิบัติการด้านนวัตกรรมการแพทย์</text>
<text x="687.0" y="1480.4" font-family="Sarabun, 'TH Sarabun New', 'Noto Sans Thai', 'Liberation Sans', sans-serif" font-size="35.4" font-weight="500" fill="#fff" textLength="317.8" lengthAdjust="spacingAndGlyphs">และการวิจัยและพัฒนา</text>
<text x="1026.7" y="1480.4" font-family="Sarabun, 'TH Sarabun New', 'Noto Sans Thai', 'Liberation Sans', sans-serif" font-size="35.4" font-weight="500" fill="#fff" textLength="46.2" lengthAdjust="spacingAndGlyphs">วช.</text>
<text x="1107.2" y="1480.4" font-family="Sarabun, 'TH Sarabun New', 'Noto Sans Thai', 'Liberation Sans', sans-serif" font-size="35.4" font-weight="500" fill="#fff" textLength="320.1" lengthAdjust="spacingAndGlyphs">กระทรวงการอุดมศึกษา</text>
<text x="1436.9" y="1480.4" font-family="Sarabun, 'TH Sarabun New', 'Noto Sans Thai', 'Liberation Sans', sans-serif" font-size="35.4" font-weight="500" fill="#fff" textLength="167.9" lengthAdjust="spacingAndGlyphs">วิทยาศาสตร์</text>
<text x="1616.7" y="1480.4" font-family="Sarabun, 'TH Sarabun New', 'Noto Sans Thai', 'Liberation Sans', sans-serif" font-size="35.4" font-weight="500" fill="#fff" textLength="250.5" lengthAdjust="spacingAndGlyphs">วิจัยและนวัตกรรม</text>
</g>
</svg>
</div>
</body>
</html>
